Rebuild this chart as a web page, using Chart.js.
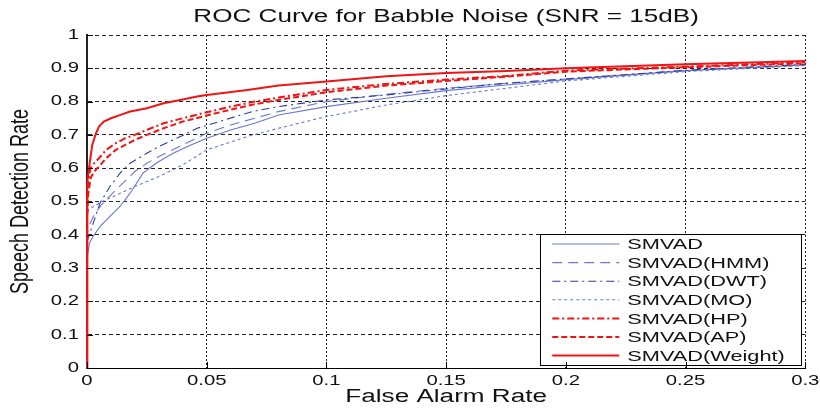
<!DOCTYPE html>
<html><head><meta charset="utf-8">
<script src="https://cdn.jsdelivr.net/npm/chart.js@4/dist/chart.umd.min.js"></script>
<style>html,body{margin:0;padding:0;background:#fff}canvas{display:block}</style>
</head><body>
<canvas id="c" width="820" height="408"></canvas>
<script>
// ---------- data ----------
const chartTitle = 'ROC Curve for Babble Noise (SNR = 15dB)';
const xAxisTitle = 'False Alarm Rate';
const yAxisTitle = 'Speech Detection Rate';
const xTickValues = [0, 0.05, 0.1, 0.15, 0.2, 0.25, 0.3];
const xTickLabels = ['0', '0.05', '0.1', '0.15', '0.2', '0.25', '0.3'];
const yTickValues = [0, 0.1, 0.2, 0.3, 0.4, 0.5, 0.6, 0.7, 0.8, 0.9, 1];
const yTickLabels = ['0', '0.1', '0.2', '0.3', '0.4', '0.5', '0.6', '0.7', '0.8', '0.9', '1'];
const seriesNames = ['SMVAD', 'SMVAD(HMM)', 'SMVAD(DWT)', 'SMVAD(MO)', 'SMVAD(HP)', 'SMVAD(AP)', 'SMVAD(Weight)'];

const smvadFA = [0, 0, 0.0005, 0.001, 0.0025, 0.0055, 0.0096, 0.0138, 0.018, 0.0207, 0.0234, 0.026, 0.03, 0.036, 0.042, 0.05, 0.06, 0.07, 0.08, 0.1, 0.125, 0.15, 0.175, 0.2, 0.25, 0.3];
const smvadPD = [0, 0.33, 0.35, 0.375, 0.395, 0.425, 0.455, 0.485, 0.525, 0.555, 0.585, 0.6, 0.62, 0.645, 0.665, 0.69, 0.715, 0.735, 0.76, 0.785, 0.81, 0.833, 0.85, 0.866, 0.893, 0.91];

const hmmFA = [0, 0, 0.001, 0.003, 0.006, 0.01, 0.015, 0.02, 0.025, 0.03, 0.04, 0.05, 0.06, 0.08, 0.1, 0.125, 0.15, 0.175, 0.2, 0.25, 0.3];
const hmmPD = [0, 0.4, 0.43, 0.46, 0.49, 0.52, 0.555, 0.59, 0.615, 0.635, 0.67, 0.705, 0.73, 0.77, 0.8, 0.822, 0.84, 0.855, 0.868, 0.893, 0.91];

const dwtFA = [0, 0, 0.0012, 0.0054, 0.0096, 0.0138, 0.018, 0.025, 0.03, 0.039, 0.046, 0.053, 0.062, 0.069, 0.08, 0.1, 0.125, 0.15, 0.175, 0.2, 0.25, 0.3];
const dwtPD = [0, 0.38, 0.405, 0.495, 0.545, 0.585, 0.615, 0.645, 0.665, 0.695, 0.72, 0.735, 0.755, 0.77, 0.785, 0.805, 0.82, 0.838, 0.855, 0.868, 0.894, 0.912];

const moFA = [0, 0, 0.0005, 0.005, 0.011, 0.02, 0.03, 0.04, 0.05, 0.067, 0.08, 0.1, 0.125, 0.15, 0.175, 0.2, 0.25, 0.3];
const moPD = [0, 0.45, 0.475, 0.495, 0.515, 0.545, 0.575, 0.61, 0.655, 0.695, 0.72, 0.755, 0.79, 0.818, 0.84, 0.862, 0.89, 0.908];

const hpFA = [0, 0, 0.0005, 0.0015, 0.003, 0.005, 0.008, 0.012, 0.016, 0.02, 0.025, 0.032, 0.04, 0.05, 0.06, 0.07, 0.08, 0.1, 0.125, 0.15, 0.175, 0.2, 0.25, 0.3];
const hpPD = [0, 0.5, 0.56, 0.6, 0.615, 0.63, 0.655, 0.675, 0.69, 0.7, 0.715, 0.735, 0.75, 0.768, 0.785, 0.8, 0.812, 0.835, 0.853, 0.866, 0.877, 0.893, 0.905, 0.918];

const apFA = [0, 0, 0.0005, 0.0015, 0.003, 0.005, 0.008, 0.012, 0.016, 0.02, 0.025, 0.032, 0.04, 0.05, 0.06, 0.07, 0.08, 0.1, 0.125, 0.15, 0.175, 0.2, 0.25, 0.3];
const apPD = [0, 0.45, 0.52, 0.57, 0.59, 0.605, 0.63, 0.655, 0.67, 0.685, 0.7, 0.72, 0.74, 0.758, 0.776, 0.792, 0.805, 0.828, 0.848, 0.862, 0.875, 0.89, 0.903, 0.915];

const weightFA = [0, 0, 0.0003, 0.0012, 0.0022, 0.0035, 0.005, 0.007, 0.01, 0.014, 0.018, 0.025, 0.032, 0.039, 0.046, 0.05, 0.056, 0.067, 0.08, 0.1, 0.125, 0.15, 0.175, 0.2, 0.25, 0.3];
const weightPD = [0, 0.52, 0.56, 0.62, 0.67, 0.7, 0.725, 0.74, 0.75, 0.76, 0.77, 0.78, 0.795, 0.805, 0.815, 0.82, 0.825, 0.835, 0.848, 0.86, 0.876, 0.886, 0.892, 0.9, 0.912, 0.922];

// ---------- styles ----------
const FONT = "'Liberation Sans', Arial, Helvetica, sans-serif";
const TEXT_STRETCH = 1.45;   // reference text is horizontally stretched
const LIGHT_BLUE = '#6a78cc';
const DARK_BLUE = '#2a3aa8';
const RED = '#f01414';

const seriesFA = [smvadFA, hmmFA, dwtFA, moFA, hpFA, apFA, weightFA];
const seriesPD = [smvadPD, hmmPD, dwtPD, moPD, hpPD, apPD, weightPD];
const seriesStyle = [
  {color: LIGHT_BLUE, width: 1.1, dash: []},
  {color: LIGHT_BLUE, width: 1.1, dash: [10, 6]},
  {color: DARK_BLUE, width: 1.1, dash: [8, 4, 2, 4]},
  {color: LIGHT_BLUE, width: 1.1, dash: [3, 3]},
  {color: RED, width: 2, dash: [7, 3, 2, 3]},
  {color: RED, width: 2, dash: [6, 3]},
  {color: RED, width: 2, dash: []}
];

const datasets = seriesNames.map((name, i) => ({
  label: name,
  data: seriesFA[i].map((fa, k) => ({x: fa, y: seriesPD[i][k]})),
  borderColor: seriesStyle[i].color,
  borderWidth: seriesStyle[i].width,
  borderDash: seriesStyle[i].dash,
  pointRadius: 0,
  tension: 0,
  fill: false,
  clip: 4,
  order: seriesNames.length - i
}));

// ---------- text stretching (real text, drawn wider like the reference) ----------
const canvas = document.getElementById('c');
const ctx = canvas.getContext('2d');
const origFillText = CanvasRenderingContext2D.prototype.fillText;
ctx.fillText = function (t, x, y) {
  const m = this.getTransform();
  this.save();
  this.translate(x, y);
  if (Math.abs(m.a) >= Math.abs(m.b)) this.scale(TEXT_STRETCH, 1); else this.scale(1, TEXT_STRETCH);
  origFillText.call(this, t, 0, 0);
  this.restore();
};

// ---------- legend drawn inside the axes + inward tick marks ----------
const boxLegend = {
  id: 'boxLegend',
  afterDatasetsDraw(chart) {
    const c = chart.ctx, a = chart.chartArea;
    const w = 261, h = 131;
    const left = a.right - 4 - w, top = a.bottom - 3 - h;
    c.save();
    c.fillStyle = '#fff';
    c.fillRect(left, top, w, h);
    c.strokeStyle = '#000';
    c.lineWidth = 1;
    c.setLineDash([]);
    c.strokeRect(Math.round(left) + 0.5, Math.round(top) + 0.5, w, h);
    c.font = '15px ' + FONT;
    c.fillStyle = '#111';
    c.textAlign = 'left';
    c.textBaseline = 'middle';
    chart.data.datasets.forEach((ds, i) => {
      const y = top + 10 + i * 18.6;
      c.strokeStyle = ds.borderColor;
      c.lineWidth = ds.borderWidth;
      c.setLineDash(ds.borderDash);
      c.beginPath();
      c.moveTo(left + 12, y);
      c.lineTo(left + 79, y);
      c.stroke();
      c.setLineDash([]);
      c.fillText(ds.label, left + 87, y + 1);
    });
    c.restore();
  },
  afterDraw(chart) {
    const c = chart.ctx, a = chart.chartArea;
    const xs = chart.scales.x, ys = chart.scales.y;
    c.save();
    c.strokeStyle = '#000';
    c.lineWidth = 1;
    c.setLineDash([]);
    c.beginPath();
    xTickValues.forEach(v => {
      const px = Math.round(xs.getPixelForValue(v)) + 0.5;
      c.moveTo(px, a.bottom);
      c.lineTo(px, a.bottom - 6);
    });
    yTickValues.forEach(v => {
      const py = Math.round(ys.getPixelForValue(v)) + 0.5;
      c.moveTo(a.left, py);
      c.lineTo(a.left + 6, py);
    });
    c.stroke();
    c.restore();
  }
};

new Chart(ctx, {
  type: 'line',
  data: {datasets},
  options: {
    responsive: false,
    animation: false,
    devicePixelRatio: 1,
    layout: {padding: {left: 0, right: 14, top: 0, bottom: 0}},
    plugins: {
      legend: {display: false},
      tooltip: {enabled: false},
      title: {
        display: true, text: chartTitle, fullSize: false, color: '#111',
        font: {family: FONT, size: 18, weight: 'normal'},
        padding: {top: 6, bottom: 7.4}
      }
    },
    scales: {
      x: {
        type: 'linear', min: 0, max: 0.3,
        afterFit(s) { s.height = 40; },
        afterBuildTicks(s) { s.ticks = xTickValues.map(v => ({value: v})); },
        ticks: {
          callback: (v, i) => xTickLabels[i],
          font: {family: FONT, size: 14}, color: '#111',
          padding: 5, maxRotation: 0, autoSkip: false
        },
        grid: {color: '#222', lineWidth: 1, drawTicks: false},
        border: {display: true, color: '#000', width: 1, dash: [2, 2]},
        title: {
          display: true, text: xAxisTitle, color: '#111',
          font: {family: FONT, size: 18, weight: 'normal'},
          padding: {top: 0, bottom: 0}
        }
      },
      y: {
        type: 'linear', min: 0, max: 1,
        afterFit(s) { s.width = 87; },
        afterBuildTicks(s) { s.ticks = yTickValues.map(v => ({value: v})); },
        ticks: {
          callback: (v, i) => yTickLabels[i],
          font: {family: FONT, size: 14}, color: '#111',
          padding: 8, autoSkip: false
        },
        grid: {color: '#222', lineWidth: 1, drawTicks: false},
        border: {display: true, color: '#222', width: 2, dash: [4, 3]},
        title: {
          display: true, text: yAxisTitle, color: '#111',
          font: {family: FONT, size: 18, weight: 'normal'},
          padding: {top: 10, bottom: 0}
        }
      }
    }
  },
  plugins: [boxLegend]
});
</script>
</body></html>
